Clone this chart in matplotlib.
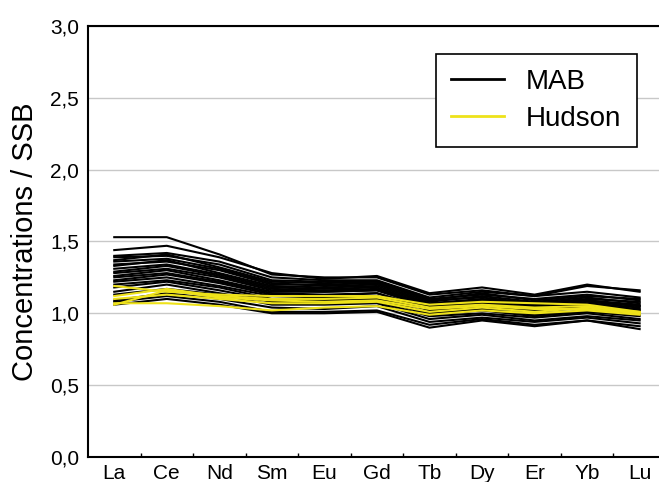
import matplotlib
matplotlib.use("Agg")
import matplotlib.pyplot as plt

# REE normalised to SSB
elements = ['La', 'Ce', 'Nd', 'Sm', 'Eu', 'Gd', 'Tb', 'Dy', 'Er', 'Yb', 'Lu']

mab = [
    [1.53, 1.53, 1.41, 1.27, 1.25, 1.25, 1.13, 1.16, 1.12, 1.19, 1.16],
    [1.44, 1.47, 1.39, 1.28, 1.24, 1.26, 1.14, 1.18, 1.13, 1.20, 1.15],
    [1.40, 1.42, 1.36, 1.25, 1.23, 1.23, 1.11, 1.15, 1.12, 1.15, 1.11],
    [1.39, 1.40, 1.34, 1.23, 1.22, 1.22, 1.10, 1.13, 1.10, 1.13, 1.09],
    [1.37, 1.41, 1.32, 1.22, 1.21, 1.22, 1.09, 1.14, 1.09, 1.12, 1.10],
    [1.36, 1.38, 1.31, 1.21, 1.19, 1.20, 1.08, 1.12, 1.08, 1.11, 1.07],
    [1.34, 1.36, 1.30, 1.20, 1.20, 1.21, 1.09, 1.11, 1.07, 1.10, 1.08],
    [1.33, 1.37, 1.28, 1.19, 1.18, 1.19, 1.07, 1.10, 1.07, 1.09, 1.06],
    [1.31, 1.34, 1.27, 1.18, 1.17, 1.18, 1.06, 1.09, 1.06, 1.09, 1.05],
    [1.29, 1.33, 1.26, 1.17, 1.16, 1.17, 1.06, 1.09, 1.05, 1.08, 1.05],
    [1.28, 1.31, 1.25, 1.16, 1.15, 1.16, 1.05, 1.08, 1.04, 1.07, 1.04],
    [1.26, 1.30, 1.23, 1.15, 1.15, 1.16, 1.04, 1.07, 1.04, 1.06, 1.03],
    [1.25, 1.28, 1.22, 1.14, 1.13, 1.14, 1.03, 1.06, 1.02, 1.05, 1.02],
    [1.23, 1.27, 1.21, 1.13, 1.12, 1.14, 1.03, 1.05, 1.02, 1.05, 1.02],
    [1.22, 1.25, 1.19, 1.12, 1.11, 1.12, 1.02, 1.04, 1.01, 1.04, 1.01],
    [1.20, 1.23, 1.18, 1.10, 1.10, 1.11, 1.00, 1.03, 0.99, 1.02, 0.99],
    [1.18, 1.22, 1.16, 1.09, 1.09, 1.10, 0.99, 1.02, 0.98, 1.01, 0.98],
    [1.15, 1.20, 1.14, 1.08, 1.07, 1.08, 0.98, 1.00, 0.97, 1.00, 0.96],
    [1.13, 1.17, 1.13, 1.06, 1.06, 1.07, 0.96, 0.99, 0.95, 0.98, 0.95],
    [1.09, 1.14, 1.10, 1.04, 1.03, 1.05, 0.94, 0.97, 0.94, 0.97, 0.93],
    [1.08, 1.12, 1.08, 1.01, 1.01, 1.02, 0.92, 0.96, 0.92, 0.95, 0.91],
    [1.06, 1.10, 1.06, 1.00, 1.00, 1.01, 0.90, 0.95, 0.91, 0.95, 0.89],
]

hudson = [
    [1.19, 1.15, 1.13, 1.12, 1.12, 1.12, 1.06, 1.08, 1.07, 1.06, 1.01],
    [1.12, 1.17, 1.12, 1.10, 1.10, 1.11, 1.04, 1.06, 1.04, 1.05, 1.00],
    [1.06, 1.16, 1.11, 1.09, 1.08, 1.09, 1.03, 1.05, 1.03, 1.03, 1.00],
    [1.07, 1.07, 1.05, 1.02, 1.04, 1.05, 0.99, 1.02, 1.00, 1.02, 0.99],
    [1.10, 1.13, 1.10, 1.07, 1.07, 1.08, 1.01, 1.04, 1.01, 1.04, 1.01],
]

plt.rcParams['font.family'] = ['Liberation Sans', 'DejaVu Sans']

fig = plt.figure(figsize=(6.59, 4.82), dpi=100)
ax = fig.add_axes([0.1335, 0.052, 0.877, 0.894])

x = range(len(elements))
for i, row in enumerate(mab):
    ax.plot(x, row, color='black', lw=1.5, label='MAB' if i == 0 else None)
for i, row in enumerate(hudson):
    ax.plot(x, row, color='#eee21a', lw=1.5, label='Hudson' if i == 0 else None)

ax.set_xlim(-0.5, len(elements) - 0.5)
ax.set_ylim(0, 3.0)
ax.set_yticks([0, 0.5, 1.0, 1.5, 2.0, 2.5, 3.0])
ax.set_yticklabels(['0,0', '0,5', '1,0', '1,5', '2,0', '2,5', '3,0'])
ax.set_xticks(list(x))
ax.set_xticklabels(elements)
ax.set_xticks([i + 0.5 for i in range(len(elements) - 1)], minor=True)
ax.tick_params(axis='x', which='major', length=0, pad=5, labelsize=15)
ax.tick_params(axis='x', which='minor', direction='in', length=3, width=1)
ax.tick_params(axis='y', length=0, pad=6.5, labelsize=15)

ax.grid(axis='y', color='#c8c8c8', lw=1)
ax.set_axisbelow(True)
for s in ax.spines.values():
    s.set_linewidth(1.5)

ax.set_ylabel('Concentrations / SSB', fontsize=21, labelpad=8)

leg = ax.legend(loc='upper left', bbox_to_anchor=(0.602, 0.936), fontsize=20,
                frameon=True, fancybox=False, framealpha=1, edgecolor='black',
                handlelength=1.9, handletextpad=0.8, borderpad=0.55,
                labelspacing=0.4, borderaxespad=0)
leg.get_frame().set_linewidth(1.2)
for h in leg.get_lines():
    h.set_linewidth(2)

plt.savefig("out.png", dpi=100)
